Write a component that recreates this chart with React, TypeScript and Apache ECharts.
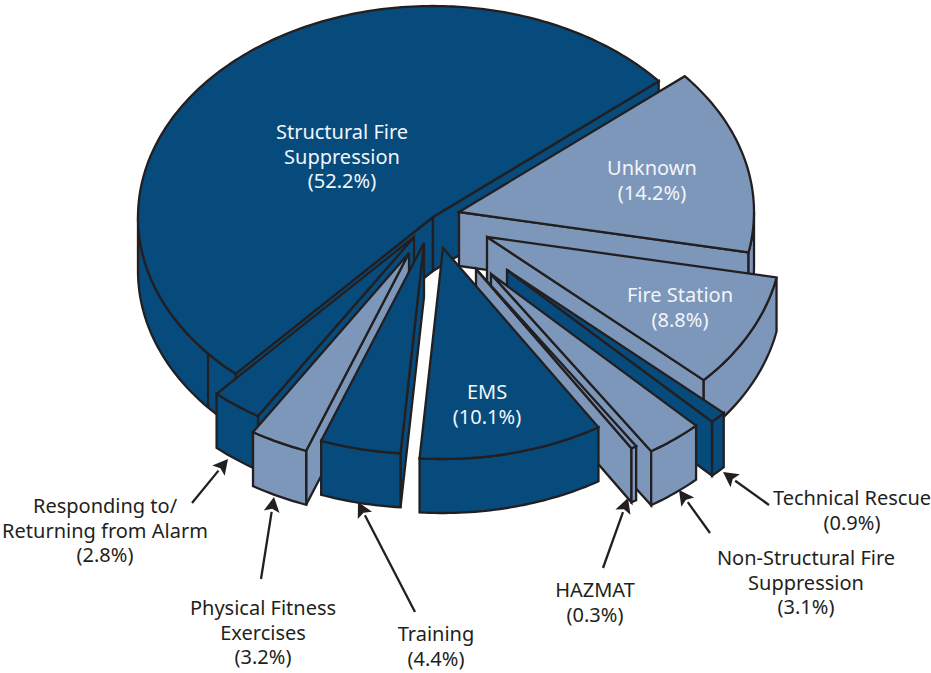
import React, { useEffect, useRef } from "react";
import * as echarts from "echarts";

// Data: clockwise from the big slice
const categories = [
  "Structural Fire\nSuppression",
  "Unknown",
  "Fire Station",
  "Technical Rescue",
  "Non-Structural Fire\nSuppression",
  "HAZMAT",
  "EMS",
  "Training",
  "Physical Fitness\nExercises",
  "Responding to/\nReturning from Alarm",
];
const values = [52.2, 14.2, 8.8, 0.9, 3.1, 0.3, 10.1, 4.4, 3.2, 2.8];

// Layout (not data)
const DARK = "#064b7c";
const LIGHT = "#7d97bb";
const INK = "#231f20";
const RX = 295;
const RY = 211;
const DEPTH = 54;
const START_ANGLE = -138;
const apexes: number[][] = [
  [433, 217], [459, 212], [487, 237], [507, 270], [491, 274],
  [476, 269], [443, 248], [424, 243], [409, 253], [414, 237],
];
const fills = [DARK, LIGHT, LIGHT, DARK, LIGHT, LIGHT, DARK, DARK, LIGHT, DARK];
const paintOrder = [0, 1, 2, 3, 4, 5, 9, 8, 7, 6];
const seamAngle = -130.3;
const labelPos: number[][] = [
  [342, 156], [652, 180], [680, 307], [852, 510], [806, 582],
  [595, 602], [487, 404], [436, 646], [263, 632], [105, 530],
];
const insideLabel = [true, true, true, false, false, false, true, false, false, false];
const arrows: number[][] = [
  [723, 472, 769, 505], [679, 490, 710, 533], [628, 498, 603, 568],
  [358, 502, 415, 612], [274, 497, 261, 579], [228, 459, 192, 503],
];

const total = values.reduce((a, b) => a + b, 0);
const spans = (() => {
  let a = START_ANGLE;
  return values.map((v) => {
    const s = a;
    a += (v / total) * 360;
    return [s, a];
  });
})();

const arc = (c: number[], a0: number, a1: number, dy = 0) => {
  const n = Math.max(1, Math.ceil(Math.abs(a1 - a0)));
  const pts: number[][] = [];
  for (let i = 0; i <= n; i++) {
    const t = ((a0 + ((a1 - a0) * i) / n) * Math.PI) / 180;
    pts.push([c[0] + RX * Math.sin(t), c[1] - RY * Math.cos(t) + dy]);
  }
  return pts;
};
const sinD = (a: number) => Math.sin((a * Math.PI) / 180);

const poly = (points: number[][], fill: string) => ({
  type: "polygon",
  shape: { points },
  style: { fill, stroke: INK, lineWidth: 2.3, lineJoin: "miter" },
});

const renderItem = (_p: any, api: any) => {
  const idx = api.value(1);
  const [a0, a1] = spans[idx];
  const c = apexes[idx];
  const fill = fills[idx];
  const children: any[] = [];
  const face = (a: number) => {
    const e = arc(c, a, a)[0];
    return poly([c, e, [e[0], e[1] + DEPTH], [c[0], c[1] + DEPTH]], fill);
  };
  if (sinD(a0) < 0) children.push(face(a0));
  if (sinD(a1) > 0) children.push(face(a1));
  for (const k of [-360, 0]) {
    const lo = Math.max(a0, 90 + k);
    const hi = Math.min(a1, 270 + k);
    if (hi > lo) {
      children.push(poly([...arc(c, lo, hi), ...arc(c, hi, lo, DEPTH)], fill));
    }
  }
  if (idx === 0) {
    const s = arc(c, seamAngle, seamAngle)[0];
    children.push({
      type: "line",
      shape: { x1: s[0], y1: s[1], x2: s[0], y2: s[1] + DEPTH },
      style: { stroke: INK, lineWidth: 2.3 },
    });
  }
  children.push(poly([c, ...arc(c, a0, a1)], fill));
  return { type: "group", children };
};

const labelText = (i: number) => `${categories[i]}\n(${values[i].toFixed(1)}%)`;

const graphicElements: any[] = [
  ...categories.map((_, i) => ({
    type: "text",
    x: labelPos[i][0],
    y: labelPos[i][1],
    z: 100,
    silent: true,
    style: {
      text: labelText(i),
      fill: insideLabel[i] ? "#f2f5f9" : INK,
      font: '20px "Noto Sans"',
      lineHeight: 24.5,
      align: "center",
      verticalAlign: "middle",
    },
  })),
  ...arrows.flatMap(([x1, y1, x2, y2]) => {
    const len = Math.hypot(x2 - x1, y2 - y1);
    const ux = (x2 - x1) / len;
    const uy = (y2 - y1) / len;
    const bx = x1 + ux * 15;
    const by = y1 + uy * 15;
    return [
      {
        type: "line",
        z: 100,
        silent: true,
        shape: { x1: bx, y1: by, x2, y2 },
        style: { stroke: INK, lineWidth: 2.3 },
      },
      {
        type: "polygon",
        z: 100,
        silent: true,
        shape: {
          points: [
            [x1, y1],
            [bx - uy * 8, by + ux * 8],
            [x1 + ux * 12, y1 + uy * 12],
            [bx + uy * 8, by - ux * 8],
          ],
        },
        style: { fill: INK },
      },
    ];
  }),
];

export default function App() {
  const ref = useRef<HTMLDivElement>(null);
  useEffect(() => {
    const chart = echarts.init(ref.current!, null, { renderer: "svg" });
    chart.setOption({
      animation: false,
      backgroundColor: "#ffffff",
      series: [
        {
          type: "custom",
          coordinateSystem: "none",
          silent: true,
          clip: false,
          renderItem,
          data: paintOrder.map((i) => [values[i], i]),
        },
      ],
      graphic: { elements: graphicElements },
    });
    return () => chart.dispose();
  }, []);
  return (
    <div
      ref={ref}
      style={{ position: "fixed", left: 0, top: 0, width: 931, height: 673 }}
    />
  );
}
